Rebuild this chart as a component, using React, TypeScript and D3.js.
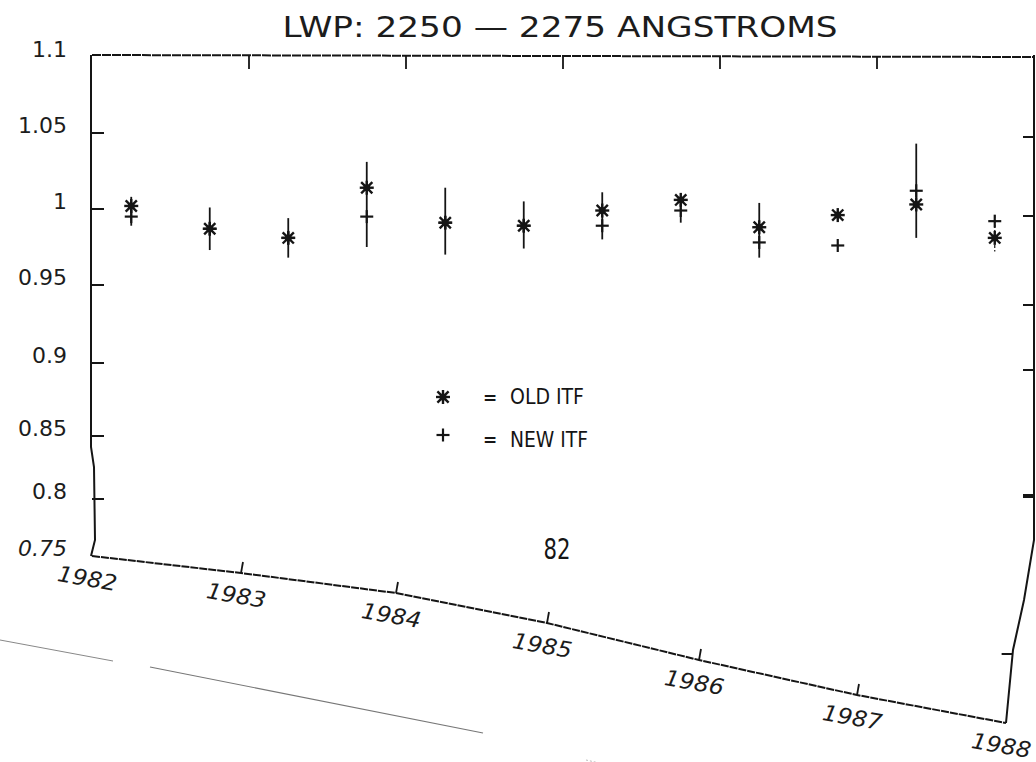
import React from 'react';
import * as d3 from 'd3';

// ---- data ----
const titleText = 'LWP: 2250 — 2275 ANGSTROMS';
const yTickValues = [0.75, 0.8, 0.85, 0.9, 0.95, 1, 1.05, 1.1];
const yTickLabels = ['0.75', '0.8', '0.85', '0.9', '0.95', '1', '1.05', '1.1'];
const years = [1982, 1983, 1984, 1985, 1986, 1987, 1988];
const yearLabels = ['1982', '1983', '1984', '1985', '1986', '1987', '1988'];
const pointTimes = [1982.25, 1982.75, 1983.25, 1983.75, 1984.25, 1984.75, 1985.25, 1985.75, 1986.25, 1986.75, 1987.25, 1987.75];
const oldITF = [1.002, 0.987, 0.981, 1.014, 0.991, 0.989, 0.999, 1.006, 0.988, 0.996, 1.003, 0.981];
const newITF = [0.995, 0.987, 0.981, 0.995, 0.991, 0.989, 0.989, 0.999, 0.978, 0.976, 1.012, 0.992];
const errHigh: (number | null)[] = [1.008, 1.001, 0.994, 1.031, 1.014, 1.005, 1.011, 1.001, 1.004, null, 1.043, 0.996];
const errLow: (number | null)[] = [0.989, 0.973, 0.968, 0.975, 0.970, 0.974, 0.980, 0.991, 0.968, null, 0.981, 0.972];
const legendLabels = ['OLD ITF', 'NEW ITF'];
const pageNumber = '82';

// ---- geometry of the (scanned, warped) frame ----
const W = 1036;
const H = 762;
const x = d3.scaleLinear().domain([1982, 1988]).range([92, 1034]);
const yLeft = d3.scaleLinear().domain(yTickValues).range([556, 499, 436, 363, 285, 209, 133, 55]);
const yRight = d3.scaleLinear().domain(yTickValues).range([723, 654, 496, 370, 305, 216, 137, 55]);
const rightX = d3.scaleLinear().domain([55, 540, 600, 650, 723]).range([1034, 1034, 1024, 1013, 1006]).clamp(true);
const bottomX = d3.scaleLinear().domain(years).range([92, 241, 396, 547, 699, 857, 1006]);
const bottomY = d3.scaleLinear().domain(years).range([556, 573, 593, 623, 660, 695, 723]);

const ink = '#151515';
const tickFont = "'DejaVu Sans', 'Noto Sans', sans-serif";
const narrowFont = "'Liberation Sans Narrow', 'DejaVu Sans Condensed', 'Liberation Sans', sans-serif";

function Asterisk({ cx, cy, s = 7 }: { cx: number; cy: number; s?: number }) {
  const d = s * 0.8;
  return (
    <g transform={`translate(${cx},${cy})`} stroke={ink} strokeWidth={2.4} strokeLinecap="butt">
      <line x1={0} y1={-s} x2={0} y2={s} />
      <line x1={-s} y1={0} x2={s} y2={0} />
      <line x1={-d} y1={-d} x2={d} y2={d} />
      <line x1={-d} y1={d} x2={d} y2={-d} />
      <circle r={3.5} fill={ink} stroke="none" />
    </g>
  );
}

function Plus({ cx, cy, s = 6.5 }: { cx: number; cy: number; s?: number }) {
  return (
    <g transform={`translate(${cx},${cy})`} stroke={ink} strokeWidth={2.2}>
      <line x1={0} y1={-s} x2={0} y2={s} />
      <line x1={-s} y1={0} x2={s} y2={0} />
    </g>
  );
}

export default function App() {
  const line = d3.line<[number, number]>();

  const leftAxis: [number, number][] = [[91, yLeft(1.1)], [91, 447], [94, 467], [95, 540], [91, yLeft(0.75)]];
  const topAxis: [number, number][] = [[x(1982), 55], [x(1988), 57]];
  const rightPts: [number, number][] = [55, 540, 600, 650, 723].map((yy) => [rightX(yy), yy]);
  const bottomPts: [number, number][] = years.map((yr) => [bottomX(yr), bottomY(yr)]);

  return (
    <svg width={W} height={H} viewBox={`0 0 ${W} ${H}`} style={{ position: 'absolute', left: 0, top: 0, background: '#fff' }}>
      <rect x={0} y={0} width={W} height={H} fill="#fff" />

      {/* title */}
      <text x={560} y={37} textAnchor="middle" fontFamily={tickFont} fontSize={29} fill="#1c1c1c"
        textLength={555} lengthAdjust="spacingAndGlyphs">{titleText}</text>

      {/* frame */}
      <path d={line(leftAxis) || ''} fill="none" stroke={ink} strokeWidth={2} />
      <path d={line(topAxis) || ''} fill="none" stroke={ink} strokeWidth={2} strokeDasharray="9 1" />
      <path d={line(rightPts) || ''} fill="none" stroke={ink} strokeWidth={2} />
      <path d={line(bottomPts) || ''} fill="none" stroke={ink} strokeWidth={2} strokeDasharray="8 1" />

      {/* left ticks + labels */}
      {yTickValues.map((v, i) => (
        <g key={`yl${i}`}>
          {i > 0 && i < yTickValues.length - 1 && (
            <line x1={92} x2={104} y1={yLeft(v)} y2={yLeft(v)} stroke={ink} strokeWidth={2} />
          )}
          <text x={67} y={yLeft(v) + (i === yTickValues.length - 1 ? 2 : 0)} textAnchor="end" fontFamily={tickFont}
            fontSize={22} fontStyle={i === 0 ? 'italic' : 'normal'} fill="#1c1c1c">{yTickLabels[i]}</text>
        </g>
      ))}

      {/* right ticks */}
      {yTickValues.slice(1, -1).map((v, i) => {
        const yy = yRight(v);
        const xx = rightX(yy);
        return <line key={`yr${i}`} x1={xx - 11} x2={xx} y1={yy} y2={yy} stroke={ink} strokeWidth={v === 0.85 ? 4 : 2} />;
      })}

      {/* top ticks */}
      {years.slice(1, -1).map((yr) => (
        <line key={`tt${yr}`} x1={x(yr)} x2={x(yr)} y1={56} y2={69} stroke={ink} strokeWidth={1.8} />
      ))}

      {/* bottom ticks + labels */}
      {years.map((yr, i) => (
        <g key={`bt${yr}`}>
          {i > 0 && i < years.length - 1 && (
            <line x1={bottomX(yr)} x2={bottomX(yr) + 2} y1={bottomY(yr)} y2={bottomY(yr) - 11} stroke={ink} strokeWidth={1.8} />
          )}
          <text transform={`translate(${bottomX(yr) - 6},${bottomY(yr) + 30}) rotate(10)`} textAnchor="middle"
            fontFamily={tickFont} fontStyle="italic" fontSize={22} fill="#1c1c1c"
            textLength={60} lengthAdjust="spacingAndGlyphs">{yearLabels[i]}</text>
        </g>
      ))}

      {/* error bars */}
      {pointTimes.map((t, i) => {
        const hi = errHigh[i];
        const lo = errLow[i];
        if (hi === null || lo === null) return null;
        return <line key={`eb${i}`} x1={x(t)} x2={x(t)} y1={yLeft(hi)} y2={yLeft(lo)} stroke={ink}
          strokeWidth={i === pointTimes.length - 1 ? 1.2 : 1.8} strokeDasharray={i === pointTimes.length - 1 ? '3 2' : undefined} />;
      })}

      {/* markers */}
      {pointTimes.map((t, i) => <Plus key={`np${i}`} cx={x(t)} cy={yLeft(newITF[i])} />)}
      {pointTimes.map((t, i) => <Asterisk key={`op${i}`} cx={x(t)} cy={yLeft(oldITF[i])} />)}

      {/* legend */}
      <Asterisk cx={443} cy={397} />
      <text x={490} y={404} textAnchor="middle" fontFamily={tickFont} fontWeight="bold" fontSize={17} fill={ink}>=</text>
      <text x={510} y={404} fontFamily={narrowFont} fontSize={21} fill={ink} textLength={74} lengthAdjust="spacingAndGlyphs">{legendLabels[0]}</text>
      <Plus cx={443} cy={435} />
      <text x={490} y={446} textAnchor="middle" fontFamily={tickFont} fontWeight="bold" fontSize={17} fill={ink}>=</text>
      <text x={510} y={447} fontFamily={narrowFont} fontSize={21} fill={ink} textLength={78} lengthAdjust="spacingAndGlyphs">{legendLabels[1]}</text>

      {/* page number */}
      <text x={557} y={559} textAnchor="middle" fontFamily={narrowFont} fontSize={28} fill={ink}
        textLength={27} lengthAdjust="spacingAndGlyphs">{pageNumber}</text>

      {/* faint scan artefact lines */}
      <path d="M0,640 L113,661" stroke="#888" strokeWidth={1} fill="none" />
      <path d="M150,667 L483,733" stroke="#777" strokeWidth={1.2} fill="none" />
      <path d="M586,760 L613,766" stroke="#bbb" strokeWidth={1} fill="none" strokeDasharray="2 2" />
    </svg>
  );
}
